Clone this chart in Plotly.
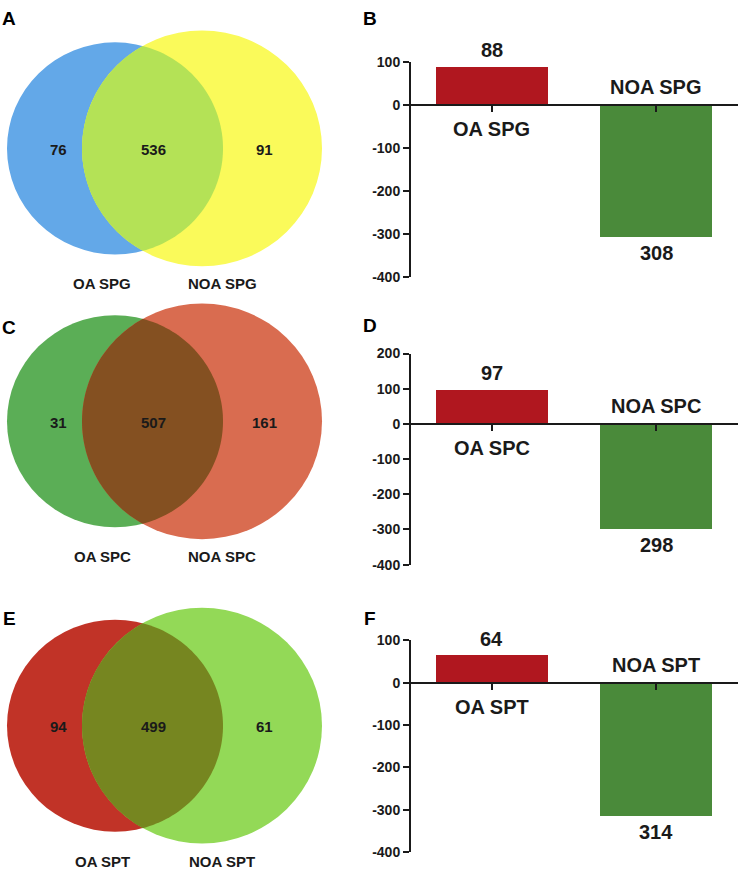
import numpy as np
import plotly.graph_objects as go

# ---- data ----
panels_venn = ['A', 'C', 'E']
panels_bar = ['B', 'D', 'F']
cell_types = ['SPG', 'SPC', 'SPT']
oa_only = [76, 31, 94]
shared = [536, 507, 499]
noa_only = [91, 161, 61]
oa_bar = [88, 97, 64]
noa_bar = [308, 298, 314]
bar_ymax = [100, 200, 100]
bar_ymin = [-400, -400, -400]

# ---- layout settings (pixels) ----
W, H = 744, 877
venn_cy = [143, 421, 731]
left_cx, left_r = 115, 108
right_cx, right_r = 202, 120
venn_cols = [('#63A8E8', '#FAFA5A', '#B4E256'),
             ('#5BAE56', '#D96C50', '#845021'),
             ('#C13327', '#93D957', '#768620')]
bar_px = [(55, 274), (352, 567), (644, 860)]  # top / bottom pixel of y axis
bar_x0, bar_x1 = 410, 738
red_bar, green_bar = '#B0171F', '#4A8A3A'
FONT = 'Liberation Sans, Arial, sans-serif'
INK = '#1a1a1a'

fig = go.Figure()
shapes, annotations = [], []


def lens_path(cy):
    d = right_cx - left_cx
    a = (left_r**2 - right_r**2 + d**2) / (2 * d)
    h = np.sqrt(left_r**2 - a**2)
    t1 = np.arctan2(h, a)
    t2 = np.arctan2(h, a - d)
    th1 = np.linspace(-t1, t1, 80)
    th2 = np.linspace(t2, 2 * np.pi - t2, 80)
    xs = np.concatenate([left_cx + left_r * np.cos(th1), right_cx + right_r * np.cos(th2)])
    ys = np.concatenate([cy + left_r * np.sin(th1), cy + right_r * np.sin(th2)])
    return 'M ' + ' L '.join(f'{x:.2f},{y:.2f}' for x, y in zip(xs, ys)) + ' Z'


for i in range(3):
    cy = venn_cy[i]
    c_left, c_right, c_mid = venn_cols[i]
    shapes.append(dict(type='circle', xref='x', yref='y', x0=left_cx - left_r, x1=left_cx + left_r,
                       y0=cy - left_r, y1=cy + left_r, fillcolor=c_left, line_width=0, layer='below'))
    shapes.append(dict(type='circle', xref='x', yref='y', x0=right_cx - right_r, x1=right_cx + right_r,
                       y0=cy - right_r, y1=cy + right_r, fillcolor=c_right, line_width=0, layer='below'))
    shapes.append(dict(type='path', xref='x', yref='y', path=lens_path(cy), fillcolor=c_mid,
                       line_width=0, layer='below'))
    for xx, val in [(58, oa_only[i]), (153, shared[i]), (264, noa_only[i])]:
        annotations.append(dict(xref='x', yref='y', x=xx, y=cy + 1, text=str(val), showarrow=False,
                                font=dict(family=FONT, size=15, color=INK, weight='bold')))
    for xx, name in [(102, 'OA ' + cell_types[i]), (222, 'NOA ' + cell_types[i])]:
        annotations.append(dict(xref='x', yref='y', x=xx, y=cy + 138, text=name, showarrow=False,
                                font=dict(family=FONT, size=15, color=INK, weight='bold')))
    annotations.append(dict(xref='x', yref='y', x=9, y=[11, 325, 622][i],
                            text=panels_venn[i], showarrow=False,
                            font=dict(family=FONT, size=19, color='black', weight='bold')))

# overlay pixel axis for venn diagrams
fig.update_layout(
    xaxis=dict(domain=[0, 1], range=[0, W], visible=False, fixedrange=True),
    yaxis=dict(domain=[0, 1], range=[H, 0], visible=False, fixedrange=True),
)

for i in range(3):
    k = i + 2
    xa, ya = f'xaxis{k}', f'yaxis{k}'
    top, bot = bar_px[i]
    d0, d1 = 1 - bot / H, 1 - top / H
    ymin, ymax = bar_ymin[i], bar_ymax[i]
    zero_pos = d0 + (0 - ymin) / (ymax - ymin) * (d1 - d0)
    tickvals = list(range(ymin, ymax + 1, 100))
    cats = ['OA ' + cell_types[i], 'NOA ' + cell_types[i]]
    fig.add_trace(go.Bar(x=cats, y=[oa_bar[i], -noa_bar[i]], width=0.68,
                         marker=dict(color=[red_bar, green_bar], line_width=0),
                         xaxis=f'x{k}', yaxis=f'y{k}', showlegend=False, hoverinfo='skip'))
    fig.update_layout({
        xa: dict(domain=[bar_x0 / W, bar_x1 / W], anchor='free', position=zero_pos,
                 range=[-0.5, 1.5], showline=True, linecolor=INK, linewidth=2,
                 ticks='outside', ticklen=6, tickwidth=2, tickcolor=INK,
                 showticklabels=False, showgrid=False, zeroline=False, fixedrange=True),
        ya: dict(domain=[d0, d1], anchor='free', position=bar_x0 / W, range=[ymin, ymax],
                 tickmode='array', tickvals=tickvals, ticktext=[str(v) for v in tickvals],
                 showline=True, linecolor=INK, linewidth=2, ticks='outside', ticklen=6,
                 tickwidth=2, tickcolor=INK, showgrid=False, zeroline=False,
                 tickfont=dict(family=FONT, size=14, color=INK, weight='bold'), fixedrange=True),
    })
    bfont = dict(family=FONT, size=20, color=INK, weight='bold')
    annotations += [
        dict(xref=f'x{k}', yref=f'y{k}', x=cats[0], y=oa_bar[i], text=str(oa_bar[i]),
             showarrow=False, yshift=17, font=bfont),
        dict(xref=f'x{k}', yref=f'y{k}', x=cats[0], y=0, text=cats[0],
             showarrow=False, yshift=-24, font=bfont),
        dict(xref=f'x{k}', yref=f'y{k}', x=cats[1], y=0, text=cats[1],
             showarrow=False, yshift=18, font=bfont),
        dict(xref=f'x{k}', yref=f'y{k}', x=cats[1], y=-noa_bar[i], text=str(noa_bar[i]),
             showarrow=False, yshift=-16, font=bfont),
    ]
    annotations.append(dict(xref='x', yref='y', x=370, y=[11, 323, 622][i], text=panels_bar[i],
                            showarrow=False,
                            font=dict(family=FONT, size=19, color='black', weight='bold')))

fig.update_layout(
    width=W, height=H, margin=dict(l=0, r=0, t=0, b=0),
    paper_bgcolor='white', plot_bgcolor='rgba(0,0,0,0)',
    shapes=shapes, annotations=annotations, bargap=0,
)
fig.write_html("out.html", config={'displayModeBar': False},
               post_script="document.body.style.margin='0';")
